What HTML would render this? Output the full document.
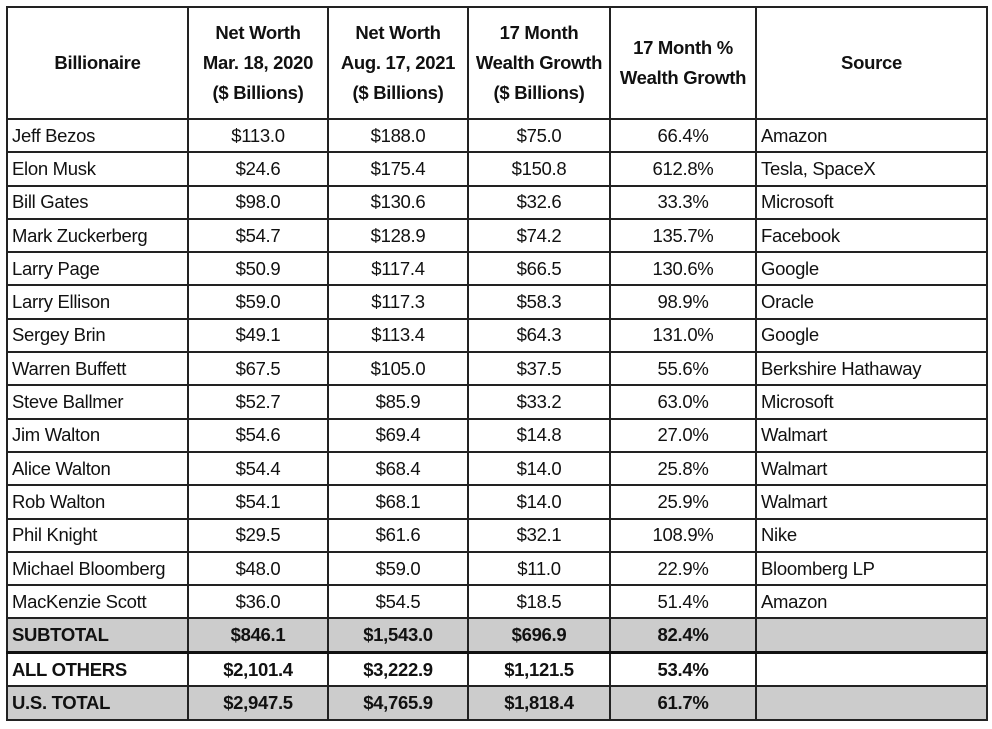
<!DOCTYPE html>
<html><head><style>
body{margin:0;background:#fff;width:992px;height:729px;overflow:hidden}
table{position:absolute;left:6px;top:6px;border-collapse:collapse;font-family:"Liberation Sans",Arial,sans-serif;font-size:18.5px;color:#111;table-layout:fixed}
td,th{border:2px solid #222;padding:0 4px;white-space:nowrap;letter-spacing:-0.3px}
td{height:31.3px;box-sizing:border-box;text-align:center}
tr{height:33.3px}
tr.h{height:112px}
th{font-weight:bold;text-align:center;line-height:30px}
td.l{text-align:left}
tr.g td{background:#cccccc;font-weight:bold}
tr.b td{font-weight:bold}
tr.t td{border-top:3px solid #111}
tr.s{height:34px}
</style></head><body>
<table>
<colgroup><col style="width:181px"><col style="width:140px"><col style="width:140px"><col style="width:142px"><col style="width:146px"><col style="width:231px"></colgroup>
<tr class="h"><th>Billionaire</th><th>Net Worth<br>Mar. 18, 2020<br>($ Billions)</th><th>Net Worth<br>Aug. 17, 2021<br>($ Billions)</th><th>17 Month<br>Wealth Growth<br>($ Billions)</th><th>17 Month %<br>Wealth Growth</th><th>Source</th></tr>
<tr><td class="l">Jeff Bezos</td><td>$113.0</td><td>$188.0</td><td>$75.0</td><td>66.4%</td><td class="l">Amazon</td></tr>
<tr><td class="l">Elon Musk</td><td>$24.6</td><td>$175.4</td><td>$150.8</td><td>612.8%</td><td class="l">Tesla, SpaceX</td></tr>
<tr><td class="l">Bill Gates</td><td>$98.0</td><td>$130.6</td><td>$32.6</td><td>33.3%</td><td class="l">Microsoft</td></tr>
<tr><td class="l">Mark Zuckerberg</td><td>$54.7</td><td>$128.9</td><td>$74.2</td><td>135.7%</td><td class="l">Facebook</td></tr>
<tr><td class="l">Larry Page</td><td>$50.9</td><td>$117.4</td><td>$66.5</td><td>130.6%</td><td class="l">Google</td></tr>
<tr><td class="l">Larry Ellison</td><td>$59.0</td><td>$117.3</td><td>$58.3</td><td>98.9%</td><td class="l">Oracle</td></tr>
<tr><td class="l">Sergey Brin</td><td>$49.1</td><td>$113.4</td><td>$64.3</td><td>131.0%</td><td class="l">Google</td></tr>
<tr><td class="l">Warren Buffett</td><td>$67.5</td><td>$105.0</td><td>$37.5</td><td>55.6%</td><td class="l">Berkshire Hathaway</td></tr>
<tr><td class="l">Steve Ballmer</td><td>$52.7</td><td>$85.9</td><td>$33.2</td><td>63.0%</td><td class="l">Microsoft</td></tr>
<tr><td class="l">Jim Walton</td><td>$54.6</td><td>$69.4</td><td>$14.8</td><td>27.0%</td><td class="l">Walmart</td></tr>
<tr><td class="l">Alice Walton</td><td>$54.4</td><td>$68.4</td><td>$14.0</td><td>25.8%</td><td class="l">Walmart</td></tr>
<tr><td class="l">Rob Walton</td><td>$54.1</td><td>$68.1</td><td>$14.0</td><td>25.9%</td><td class="l">Walmart</td></tr>
<tr><td class="l">Phil Knight</td><td>$29.5</td><td>$61.6</td><td>$32.1</td><td>108.9%</td><td class="l">Nike</td></tr>
<tr><td class="l">Michael Bloomberg</td><td>$48.0</td><td>$59.0</td><td>$11.0</td><td>22.9%</td><td class="l">Bloomberg LP</td></tr>
<tr><td class="l">MacKenzie Scott</td><td>$36.0</td><td>$54.5</td><td>$18.5</td><td>51.4%</td><td class="l">Amazon</td></tr>
<tr class="g s"><td class="l">SUBTOTAL</td><td>$846.1</td><td>$1,543.0</td><td>$696.9</td><td>82.4%</td><td></td></tr>
<tr class="b t s"><td class="l">ALL OTHERS</td><td>$2,101.4</td><td>$3,222.9</td><td>$1,121.5</td><td>53.4%</td><td></td></tr>
<tr class="g s"><td class="l">U.S. TOTAL</td><td>$2,947.5</td><td>$4,765.9</td><td>$1,818.4</td><td>61.7%</td><td></td></tr>
</table>
</body></html>
